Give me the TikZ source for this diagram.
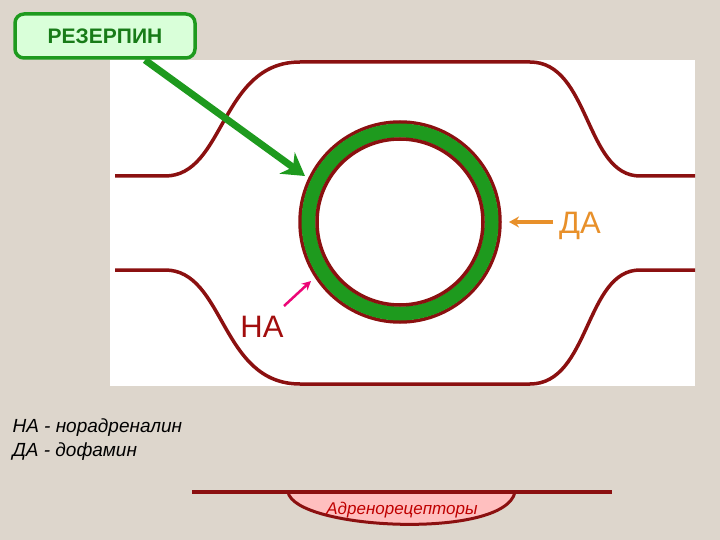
\documentclass[tikz,border=0pt]{standalone}
\usepackage{fontspec}
\setmainfont{Liberation Sans}
\usetikzlibrary{arrows.meta}
\definecolor{bg}{HTML}{DDD6CC}
\definecolor{mem}{HTML}{8B1010}
\definecolor{gr}{HTML}{1E9A1E}
\definecolor{org}{HTML}{E8902A}
\tikzset{memline/.style={draw=mem,line width=3.5pt},
 lbl/.style={font=\fontsize{31}{33}\selectfont}}
\begin{document}
\begin{tikzpicture}[x=1pt,y=-1pt]
\useasboundingbox (0,0) rectangle (720,540);
\fill[bg] (0,0) rectangle (720,540);
\fill[white] (110,60) rectangle (695,386);
\draw[memline] (115,176) -- (165,176) .. controls (225,176) and (220,62) .. (300,62) -- (530,62) .. controls (590,62) and (585,176) .. (640,176) -- (695,176);
\draw[memline] (115,270) -- (165,270) .. controls (225,270) and (220,384) .. (300,384) -- (530,384) .. controls (590,384) and (585,270) .. (640,270) -- (695,270);
\node[circle,minimum size=200pt,draw=mem,line width=3.5pt] (ves) at (400,222) {};
\draw[gr,line width=14pt] (400,222) circle (91.5);
\draw[mem,line width=3.5pt] (400,222) circle (83);
\node[draw=gr,line width=3.5pt,fill=green!15,rounded corners=9pt,minimum width=180pt,minimum height=44pt,text=gr!80!black,font=\bfseries\fontsize{21}{23}\selectfont] (res) at (105,36) {РЕЗЕРПИН};
\coordinate (rs) at (145,60);
\coordinate (re) at (305,176);
\draw[gr,line width=7pt,-{Stealth[length=22pt,width=26pt]}] (rs) -- (re);
\node[lbl,text=org] (da) at (580,226) {ДА};
\coordinate (dae) at (509,222);
\draw[org,line width=4pt,-{Stealth[length=10pt,width=11pt]}] (553,222) -- (dae);
\node[lbl,text=mem!80!red] (na) at (262,327) {НА};
\coordinate (nae) at (311,281);
\draw[magenta!80!red,line width=2.5pt,-{Stealth[length=9pt,width=9pt]}] (284,306) -- (nae);
\node[anchor=west,font=\itshape\fontsize{19}{21}\selectfont] (l1) at (9,428) {НА - норадреналин};
\node[anchor=west,font=\itshape\fontsize{19}{21}\selectfont] (l2) at (9,452) {ДА - дофамин};
\draw[mem,line width=3pt,fill=pink] (288,492) .. controls (295,530) and (505,540) .. (515,492);
\draw[mem,line width=4pt] (192,492) -- (612,492);
\node[text=red!75!black,font=\itshape\fontsize{17}{19}\selectfont] (adr) at (402,510) {Адренорецепторы};
\end{tikzpicture}
\end{document}
